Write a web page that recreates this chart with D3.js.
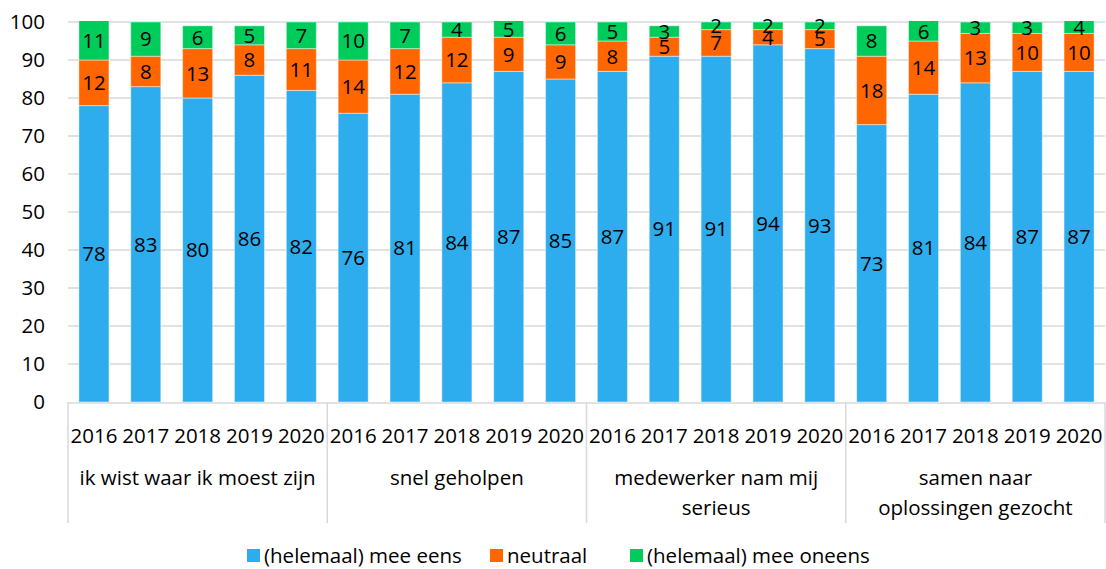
<!DOCTYPE html>
<html>
<head>
<meta charset="utf-8">
<script src="https://cdn.jsdelivr.net/npm/d3@7"></script>
<style>
  body { margin: 0; background: #fff; }
  svg { display: block; font-family: "Open Sans", sans-serif; }
</style>
</head>
<body>
<svg id="chart" width="1106" height="569"></svg>
<script>
// values
const groups = ['ik wist waar ik moest zijn', 'snel geholpen', 'medewerker nam mij serieus', 'samen naar oplossingen gezocht'];
const groupLines = [['ik wist waar ik moest zijn'], ['snel geholpen'], ['medewerker nam mij', 'serieus'], ['samen naar', 'oplossingen gezocht']];
const years = ['2016', '2017', '2018', '2019', '2020'];
const eens = [78, 83, 80, 86, 82, 76, 81, 84, 87, 85, 87, 91, 91, 94, 93, 73, 81, 84, 87, 87];
const neutraal = [12, 8, 13, 8, 11, 14, 12, 12, 9, 9, 8, 5, 7, 4, 5, 18, 14, 13, 10, 10];
const oneens = [11, 9, 6, 5, 7, 10, 7, 4, 5, 6, 5, 3, 2, 2, 2, 8, 6, 3, 3, 4];
const yTicks = [0, 10, 20, 30, 40, 50, 60, 70, 80, 90, 100];
const seriesNames = ['(helemaal) mee eens', 'neutraal', '(helemaal) mee oneens'];
const colors = ['#2dadee', '#ff6600', '#00cc5c'];

const svg = d3.select('#chart');
const plotLeft = 68, plotRight = 1105, plotTop = 22, plotBottom = 402;
const fs = 20.5;

const rows = [];
groups.forEach((g, gi) => {
  years.forEach((yr, yi) => {
    const i = gi * years.length + yi;
    rows.push({ key: g + '|' + yr, group: g, year: yr, s0: eens[i], s1: neutraal[i], s2: oneens[i] });
  });
});

const x = d3.scaleBand().domain(rows.map(d => d.key)).range([plotLeft, plotRight]).paddingInner(0.42).paddingOuter(0.21);
const y = d3.scaleLinear().domain([0, 100]).range([plotBottom, plotTop]);

// grid
svg.append('g')
  .selectAll('line')
  .data(yTicks.filter(t => t > 0))
  .join('line')
  .attr('x1', plotLeft).attr('x2', plotRight)
  .attr('y1', d => y(d)).attr('y2', d => y(d))
  .attr('stroke', '#d9d9d9').attr('stroke-width', 1.5);

// y axis
const yAxis = svg.append('g')
  .attr('transform', `translate(${plotLeft - 23},0)`)
  .call(d3.axisLeft(y).tickValues(yTicks).tickSize(0).tickPadding(0));
yAxis.select('.domain').remove();
yAxis.selectAll('text').attr('font-size', fs).attr('font-family', '"Open Sans", sans-serif').attr('fill', '#000');

svg.append('clipPath').attr('id', 'plotclip')
  .append('rect').attr('x', plotLeft).attr('y', plotTop - 1).attr('width', plotRight - plotLeft).attr('height', plotBottom - plotTop + 1);

const stack = d3.stack().keys(['s0', 's1', 's2']);
const layers = stack(rows);

const bars = svg.append('g').attr('clip-path', 'url(#plotclip)');
layers.forEach((layer, li) => {
  bars.append('g')
    .selectAll('rect')
    .data(layer)
    .join('rect')
    .attr('x', d => x(d.data.key))
    .attr('width', x.bandwidth())
    .attr('y', d => y(d[1]))
    .attr('height', d => y(d[0]) - y(d[1]))
    .attr('fill', colors[li])
    .attr('stroke', '#ffffff').attr('stroke-opacity', 0.45).attr('stroke-width', 1);
});

layers.forEach((layer, li) => {
  svg.append('g')
    .selectAll('text')
    .data(layer)
    .join('text')
    .attr('x', d => x(d.data.key) + x.bandwidth() / 2)
    .attr('y', d => (y(d[0]) + y(Math.min(d[1], 100))) / 2)
    .attr('dy', '0.36em')
    .attr('text-anchor', 'middle')
    .attr('font-size', fs)
    .attr('fill', '#000')
    .text(d => d[1] - d[0]);
});

// x axis baseline and separators
svg.append('line').attr('x1', plotLeft).attr('x2', plotRight).attr('y1', plotBottom + 1).attr('y2', plotBottom + 1)
  .attr('stroke', '#d9d9d9').attr('stroke-width', 1.5);
const groupWidth = (plotRight - plotLeft) / groups.length;
svg.append('g')
  .selectAll('line')
  .data(d3.range(groups.length + 1))
  .join('line')
  .attr('x1', i => plotLeft + i * groupWidth).attr('x2', i => plotLeft + i * groupWidth)
  .attr('y1', plotBottom).attr('y2', 523)
  .attr('stroke', '#d9d9d9').attr('stroke-width', 1.5);

// year labels
svg.append('g')
  .selectAll('text')
  .data(rows)
  .join('text')
  .attr('x', d => x(d.key) + x.bandwidth() / 2)
  .attr('y', 443)
  .attr('text-anchor', 'middle')
  .attr('font-size', fs)
  .text(d => d.year);

// group labels
groupLines.forEach((lines, gi) => {
  const t = svg.append('text')
    .attr('x', plotLeft + (gi + 0.5) * groupWidth)
    .attr('y', 485)
    .attr('text-anchor', 'middle')
    .attr('font-size', fs);
  lines.forEach((ln, li) => {
    t.append('tspan').attr('x', plotLeft + (gi + 0.5) * groupWidth).attr('dy', li === 0 ? 0 : 30).text(ln);
  });
});

// legend
const legend = svg.append('g');
const legendX = [247, 490, 630];
seriesNames.forEach((name, i) => {
  const g = legend.append('g').attr('transform', `translate(${legendX[i]},549)`);
  g.append('rect').attr('width', 13).attr('height', 13).attr('fill', colors[i]);
  g.append('text').attr('x', 17).attr('y', 6.5).attr('dy', '0.36em').attr('font-size', fs).text(name);
});
</script>
</body>
</html>
